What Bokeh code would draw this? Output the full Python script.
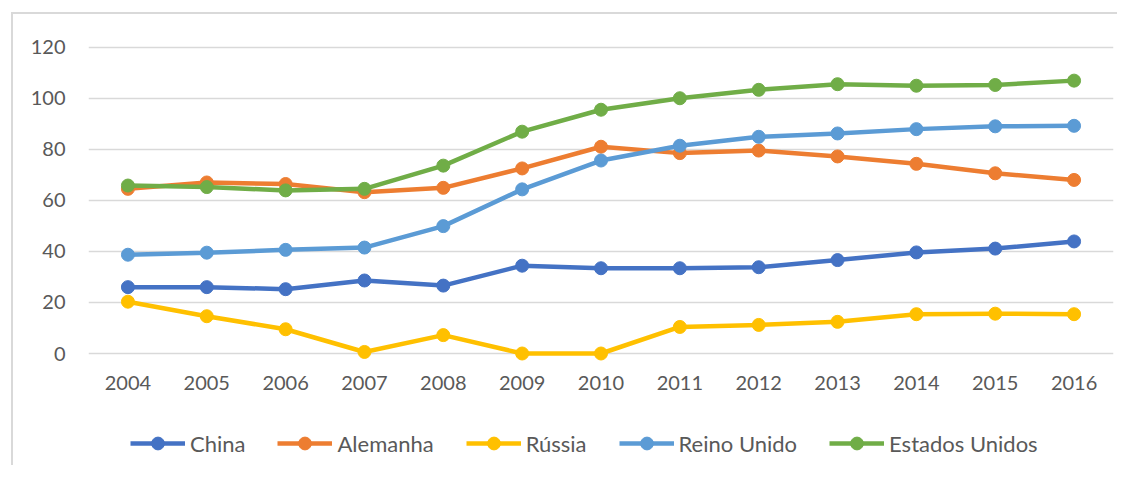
from bokeh.plotting import figure
from bokeh.layouts import column
from bokeh.models import (ColumnDataSource, FactorRange, Range1d, FixedTicker,
                          Legend, LegendItem)
from bokeh.embed import file_html
from bokeh.resources import INLINE

years = ["2004", "2005", "2006", "2007", "2008", "2009", "2010",
         "2011", "2012", "2013", "2014", "2015", "2016"]
china = [26.0, 26.0, 25.2, 28.6, 26.6, 34.4, 33.4, 33.4, 33.8, 36.6, 39.6, 41.1, 43.9]
alemanha = [64.5, 67.0, 66.4, 63.2, 64.9, 72.5, 81.0, 78.5, 79.5, 77.2, 74.3, 70.6, 68.0]
russia = [20.3, 14.6, 9.5, 0.6, 7.2, 0.0, 0.0, 10.4, 11.2, 12.4, 15.4, 15.6, 15.4]
reino_unido = [38.7, 39.5, 40.6, 41.5, 49.9, 64.3, 75.6, 81.4, 84.9, 86.2, 87.9, 89.0, 89.2]
estados_unidos = [65.8, 65.2, 63.9, 64.5, 73.6, 86.9, 95.5, 100.0, 103.3, 105.5, 104.9, 105.2, 106.9]

series_names = ["China", "Alemanha", "Rússia", "Reino Unido", "Estados Unidos"]
series_values = [china, alemanha, russia, reino_unido, estados_unidos]
colors = ["#4472C4", "#ED7D31", "#FFC000", "#5B9BD5", "#70AD47"]
y_ticks = [0, 20, 40, 60, 80, 100, 120]

FONT = "Lato"
TXT = "#595959"

x_range = FactorRange(*years, range_padding=0)

p = figure(x_range=x_range,
           y_range=Range1d(-7.835, 124.97),
           width=1104, height=386,
           output_backend="svg", toolbar_location=None,
           min_border_left=75, min_border_right=4,
           min_border_top=20, min_border_bottom=27)
p.outline_line_color = None
p.background_fill_color = "white"
p.border_fill_color = "white"

p.xgrid.grid_line_color = None
p.ygrid.grid_line_color = "#d9d9d9"
p.ygrid.grid_line_width = 1.5
p.yaxis.ticker = FixedTicker(ticks=y_ticks)

for ax in (p.xaxis[0], p.yaxis[0]):
    ax.axis_line_color = None
    ax.major_tick_line_color = None
    ax.minor_tick_line_color = None
    ax.major_tick_out = 0
    ax.major_tick_in = 0
    ax.major_label_text_font = FONT
    ax.major_label_text_font_size = "20px"
    ax.major_label_text_color = TXT
p.yaxis.major_label_standoff = 23
p.xaxis.major_label_standoff = 2

src = ColumnDataSource(dict(years=years, **{f"s{i}": v for i, v in enumerate(series_values)}))

for i, col in enumerate(colors):
    p.line("years", f"s{i}", source=src, line_color=col, line_width=4.5)
    p.scatter("years", f"s{i}", source=src, size=13, fill_color=col,
              line_color=col, line_width=1)

# legend strip below the chart (same data, drawn outside its visible y-range)
lg = figure(x_range=x_range, y_range=Range1d(-20, -10),
            width=1104, height=65, output_backend="svg", toolbar_location=None,
            x_axis_location=None, y_axis_location=None,
            min_border_left=0, min_border_right=0, min_border_top=0, min_border_bottom=0)
lg.outline_line_color = None
lg.grid.grid_line_color = None
items = []
for i, (name, col) in enumerate(zip(series_names, colors)):
    lr = lg.line("years", f"s{i}", source=src, line_color=col, line_width=4.5)
    sr = lg.scatter("years", f"s{i}", source=src, size=13, fill_color=col,
                    line_color=col, line_width=1)
    items.append(LegendItem(label=name, renderers=[lr, sr]))

legend = Legend(items=items, orientation="horizontal", location=(42, 6),
                glyph_width=55, glyph_height=32, label_standoff=5, spacing=32,
                padding=0, margin=0,
                label_text_font=FONT, label_text_font_size="22px",
                label_text_color=TXT, border_line_color=None,
                background_fill_alpha=0)
lg.add_layout(legend, "center")

layout = column(p, lg, spacing=0,
                styles={"border-left": "2px solid #d9d9d9",
                        "border-top": "2px solid #d9d9d9",
                        "margin-left": "11px", "margin-top": "12px"})

open("out.html", "w").write(file_html(layout, INLINE))
